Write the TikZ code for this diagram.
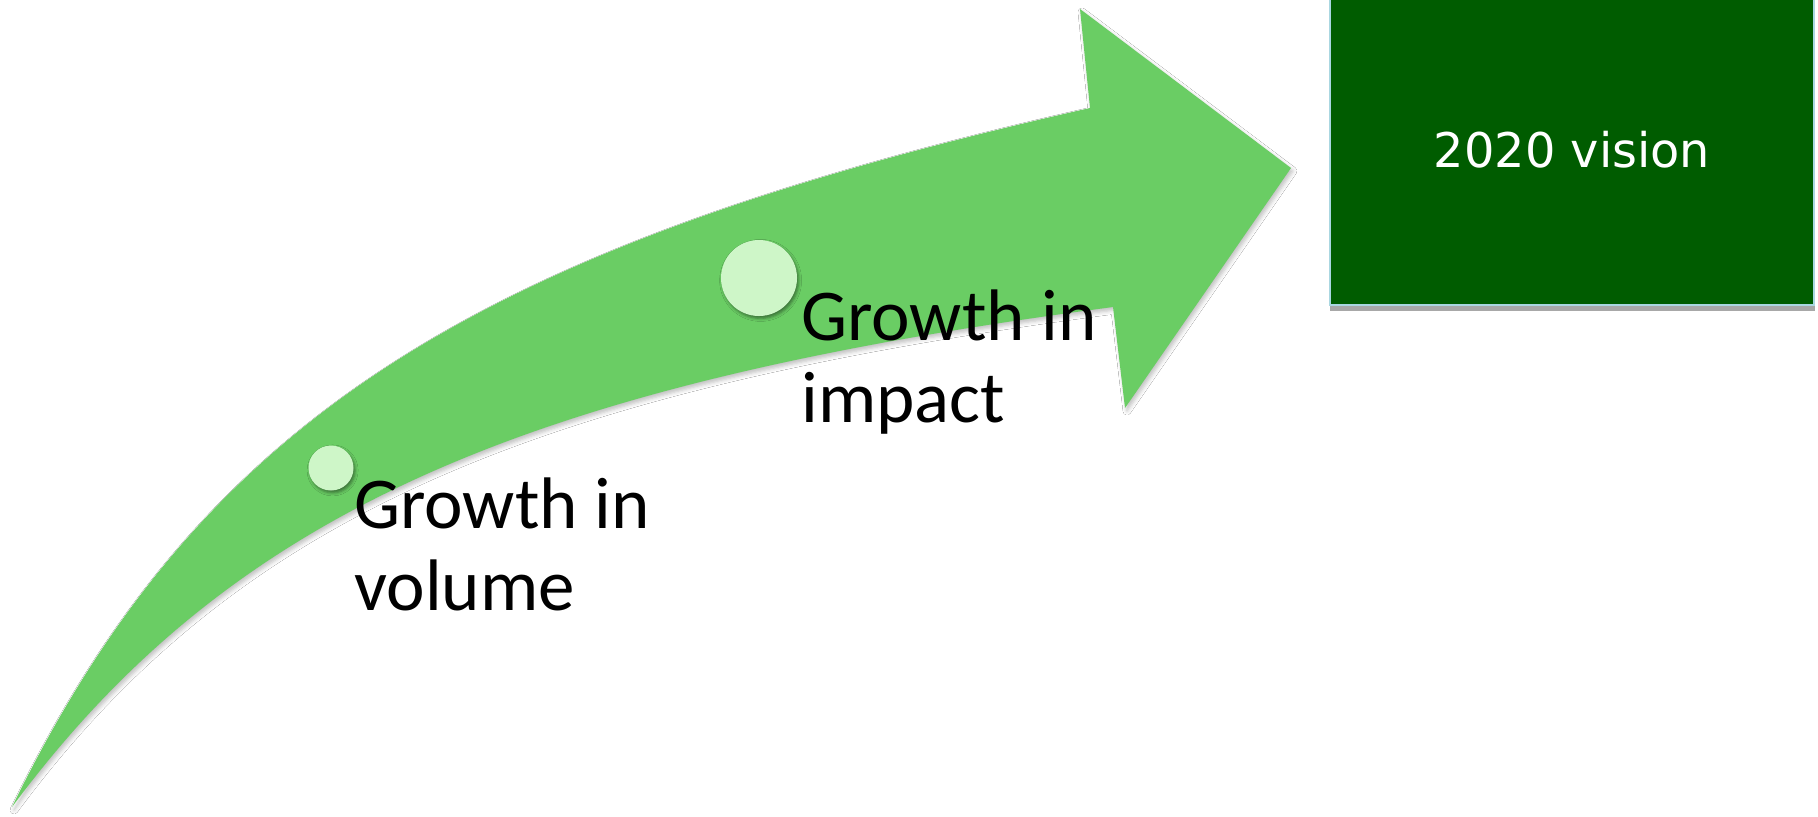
\documentclass[tikz,border=0pt]{standalone}
\usepackage{fontspec}
\usetikzlibrary{shadows.blur}
\newfontfamily\calibri{Carlito}
\newfontfamily\dejavu{DejaVu Sans}
\definecolor{arrowgreen}{RGB}{106,205,100}
\definecolor{dotgreen}{RGB}{206,246,200}
\definecolor{boxgreen}{RGB}{0,92,0}
\definecolor{boxedge}{RGB}{170,215,225}
\definecolor{boxshadow}{RGB}{168,168,168}
\tikzset{
  growthtext/.style={font=\calibri\fontsize{36.5}{41}\selectfont, align=left, inner sep=0pt, text=black},
  dot/.style={circle, fill=dotgreen, inner sep=0pt,
    blur shadow={shadow xshift=0.8pt, shadow yshift=-1.2pt, shadow opacity=45, shadow blur radius=1.5pt}},
  visionbox/.style={fill=boxgreen, minimum width=242pt, minimum height=152.5pt, inner sep=0pt},
  visiontext/.style={text=white, inner sep=0pt, font=\dejavu\fontsize{23.9}{28}\selectfont}
}
\begin{document}
\begin{tikzpicture}[x=0.5pt,y=-0.5pt]
\useasboundingbox (0,0) rectangle (1818,816);
\fill[white] (0,0) rectangle (1818,816);
% curved arrow
\fill[arrowgreen, blur shadow={shadow xshift=1pt, shadow yshift=-1.5pt, shadow opacity=25, shadow blur radius=2pt}]
  (12,807) .. controls (200,422) and (469,248) .. (1090,108)
  -- (1080,9) -- (1291,168) -- (1125,408) -- (1113,307)
  .. controls (528,384) and (232,510) .. (12,807) -- cycle;
% dots
\node[dot, minimum size=38pt] (dotI) at (759,278) {};
\node[dot, minimum size=22.5pt] (dotV) at (331,468) {};
% labels (anchor = baseline of last line)
\node[growthtext, anchor=base west] (impact) at (801,422) {Growth in\\impact};
\node[growthtext, anchor=base west] (volume) at (354,610) {Growth in\\volume};
% vision box
\fill[boxshadow] (1330,305) rectangle (1815,311);
\node[visionbox] (vision) at (1572,152.5) {};
\draw[boxedge, line width=1pt] (vision.north west) |- (vision.south east) -- (vision.north east);
\node[visiontext, anchor=base] (visionlabel) at (1572,167) {2020 vision};
\end{tikzpicture}
\end{document}
